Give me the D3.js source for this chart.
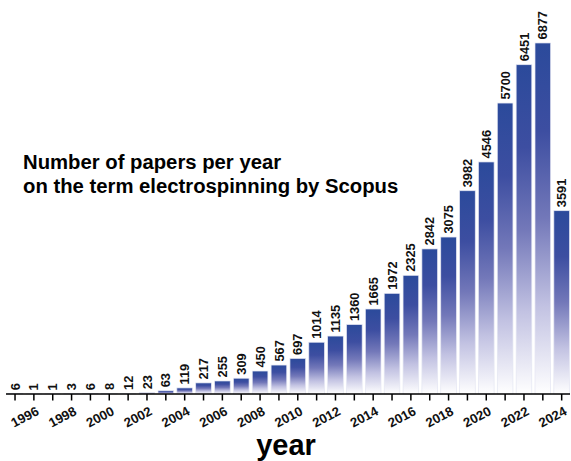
<!DOCTYPE html>
<html>
<head>
<meta charset="utf-8">
<script src="https://cdn.jsdelivr.net/npm/d3@7/dist/d3.min.js"></script>
<style>
  html, body { margin: 0; padding: 0; background: #fff; }
  svg { display: block; font-family: Arial, "Liberation Sans", sans-serif; }
</style>
</head>
<body>
<svg id="chart" width="571" height="461"></svg>
<script>
// Papers per year mentioning "electrospinning" (Scopus)
const years = d3.range(1995, 2025);
const papers = [6, 1, 1, 3, 6, 8, 12, 23, 63, 119, 217, 255, 309, 450, 567, 697,
                1014, 1135, 1360, 1665, 1972, 2325, 2842, 3075, 3982, 4546, 5700, 6451, 6877, 3591];
const tickYears = d3.range(1996, 2025, 2);
const titleLines = ["Number of papers per year", "on the term electrospinning by Scopus"];
const axisTitle = "year";

const svg = d3.select("#chart");
const baseY = 394;

const x = d3.scaleBand()
  .domain(years)
  .range([5.6, 571.1])
  .paddingInner(0.17)
  .paddingOuter(0.085);

const y = d3.scaleLinear()
  .domain([0, 7000])
  .range([baseY, 36.7]);

// Vertical fade used by every bar: deep blue at the top, white at the base
const defs = svg.append("defs");
const grad = defs.append("linearGradient")
  .attr("id", "barFade")
  .attr("x1", 0).attr("y1", 0).attr("x2", 0).attr("y2", 1);
[[0, "#2b4a9b"], [0.25, "#3d4ea1"], [0.5, "#7378b9"], [0.75, "#c2c2e2"], [1, "#ffffff"]]
  .forEach(([o, c]) => grad.append("stop").attr("offset", o).attr("stop-color", c));

const data = years.map((yr, i) => ({ year: yr, value: papers[i] }));

svg.append("g")
  .selectAll("rect")
  .data(data)
  .join("rect")
  .attr("x", d => x(d.year))
  .attr("y", d => y(d.value))
  .attr("width", x.bandwidth())
  .attr("height", d => baseY - y(d.value))
  .attr("fill", "url(#barFade)")
  .attr("stroke", "#e4e6f2")
  .attr("stroke-width", 0.7);

// Value labels, rotated, sitting just above each bar
svg.append("g")
  .selectAll("text")
  .data(data)
  .join("text")
  .attr("transform", d => `translate(${x(d.year) + x.bandwidth() / 2},${y(d.value) - 3.5}) rotate(-90)`)
  .attr("dy", "0.36em")
  .attr("text-anchor", "start")
  .attr("font-size", 12.8)
  .attr("font-weight", "bold")
  .attr("fill", "#111")
  .text(d => d.value);

// Year axis: a tick for every year, labels on even years
const axisG = svg.append("g").attr("transform", `translate(0,${baseY})`);
axisG.append("line")
  .attr("x1", 6).attr("x2", 570)
  .attr("stroke", "#000").attr("stroke-width", 1.6);
axisG.selectAll("line.tick")
  .data(years)
  .join("line")
  .attr("class", "tick")
  .attr("x1", d => x(d) + x.bandwidth() / 2)
  .attr("x2", d => x(d) + x.bandwidth() / 2)
  .attr("y1", 0).attr("y2", 6.5)
  .attr("stroke", "#000").attr("stroke-width", 1.5);

svg.append("g")
  .selectAll("text")
  .data(tickYears)
  .join("text")
  .attr("transform", d => `translate(${x(d) + x.bandwidth() / 2 + 6},${baseY + 20}) rotate(-28)`)
  .attr("text-anchor", "end")
  .attr("font-size", 13.2)
  .attr("font-weight", "bold")
  .attr("fill", "#111")
  .text(d => d);

svg.append("text")
  .attr("x", 286)
  .attr("y", 455)
  .attr("text-anchor", "middle")
  .attr("font-size", 29)
  .attr("font-weight", "bold")
  .attr("fill", "#000")
  .text(axisTitle);

// Chart caption on the left
svg.append("g")
  .selectAll("text")
  .data(titleLines)
  .join("text")
  .attr("x", 23)
  .attr("y", (d, i) => 169 + i * 24)
  .attr("font-size", 20.3)
  .attr("font-weight", "bold")
  .attr("fill", "#000")
  .text(d => d);
</script>
</body>
</html>
